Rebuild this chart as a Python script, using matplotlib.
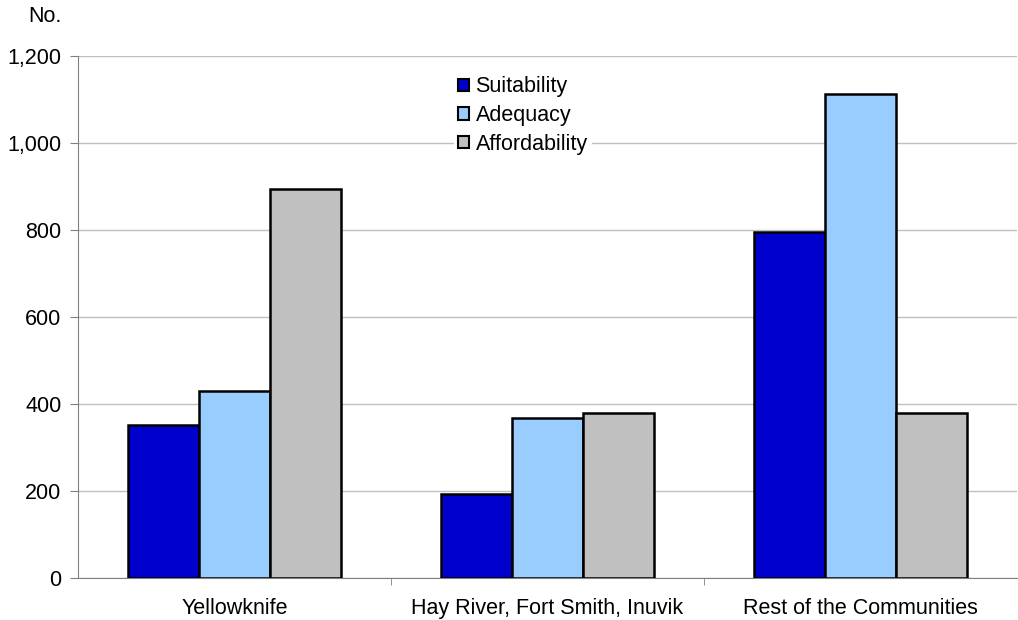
import matplotlib
matplotlib.use("Agg")
import matplotlib.pyplot as plt
import numpy as np
from matplotlib.patches import Patch

plt.rcParams['font.family'] = ['Liberation Sans', 'DejaVu Sans']

categories = ["Yellowknife", "Hay River, Fort Smith, Inuvik", "Rest of the Communities"]
series_names = ["Suitability", "Adequacy", "Affordability"]
suitability = [351, 193, 794]
adequacy = [429, 367, 1111]
affordability = [894, 380, 380]
colors = ["#0000CC", "#99CCFF", "#C0C0C0"]
yticks = [0, 200, 400, 600, 800, 1000, 1200]
ytick_labels = ["0", "200", "400", "600", "800", "1,000", "1,200"]

FS = 15.5

fig = plt.figure(figsize=(10.18, 6.2), dpi=100)
ax = fig.add_axes([78/1018, 1-578/620, (1017-78)/1018, (578-55.6)/620])

x = np.arange(len(categories))
w = 0.226
for i, (vals, c, name) in enumerate(zip([suitability, adequacy, affordability], colors, series_names)):
    ax.bar(x + (i-1)*w, vals, width=w, color=c, edgecolor="black", linewidth=1.8, label=name, zorder=3)

ax.set_xlim(-0.5, 2.5)
ax.set_ylim(0, 1200)
ax.set_yticks(yticks)
ax.set_yticklabels(ytick_labels, fontsize=FS)
ax.yaxis.grid(True, color="#c0c0c0", linewidth=1, zorder=0)
ax.set_axisbelow(True)

ax.set_xticks(x)
ax.set_xticklabels(categories, fontsize=FS)
ax.tick_params(axis='x', which='major', length=0, pad=14.5)
ax.set_xticks([0.5, 1.5], minor=True)
ax.tick_params(axis='x', which='minor', length=5, color="#808080", direction='out')
ax.tick_params(axis='y', length=6, color="#808080", direction='out', pad=6)

for s in ["top", "right"]:
    ax.spines[s].set_visible(False)
ax.spines["left"].set_color("#808080")
ax.spines["bottom"].set_color("#808080")

handles = [Patch(facecolor=c, edgecolor="black", linewidth=1.5, label=n) for c, n in zip(colors, series_names)]
leg = ax.legend(handles=handles, loc="upper left", bbox_to_anchor=((454-78)/939, (578-72)/522.4),
                frameon=True, fontsize=FS, handlelength=0.5, handleheight=0.5, handletextpad=0.3,
                labelspacing=0.36, borderpad=0.2, borderaxespad=0)
leg.get_frame().set_facecolor("white")
leg.get_frame().set_edgecolor("none")
leg.get_frame().set_alpha(1)
leg.get_frame().set_boxstyle("square", pad=0)

fig.text(28/1018, 1-16/620, "No.", fontsize=FS, va="center", ha="left")

fig.savefig("out.png", dpi=100)
